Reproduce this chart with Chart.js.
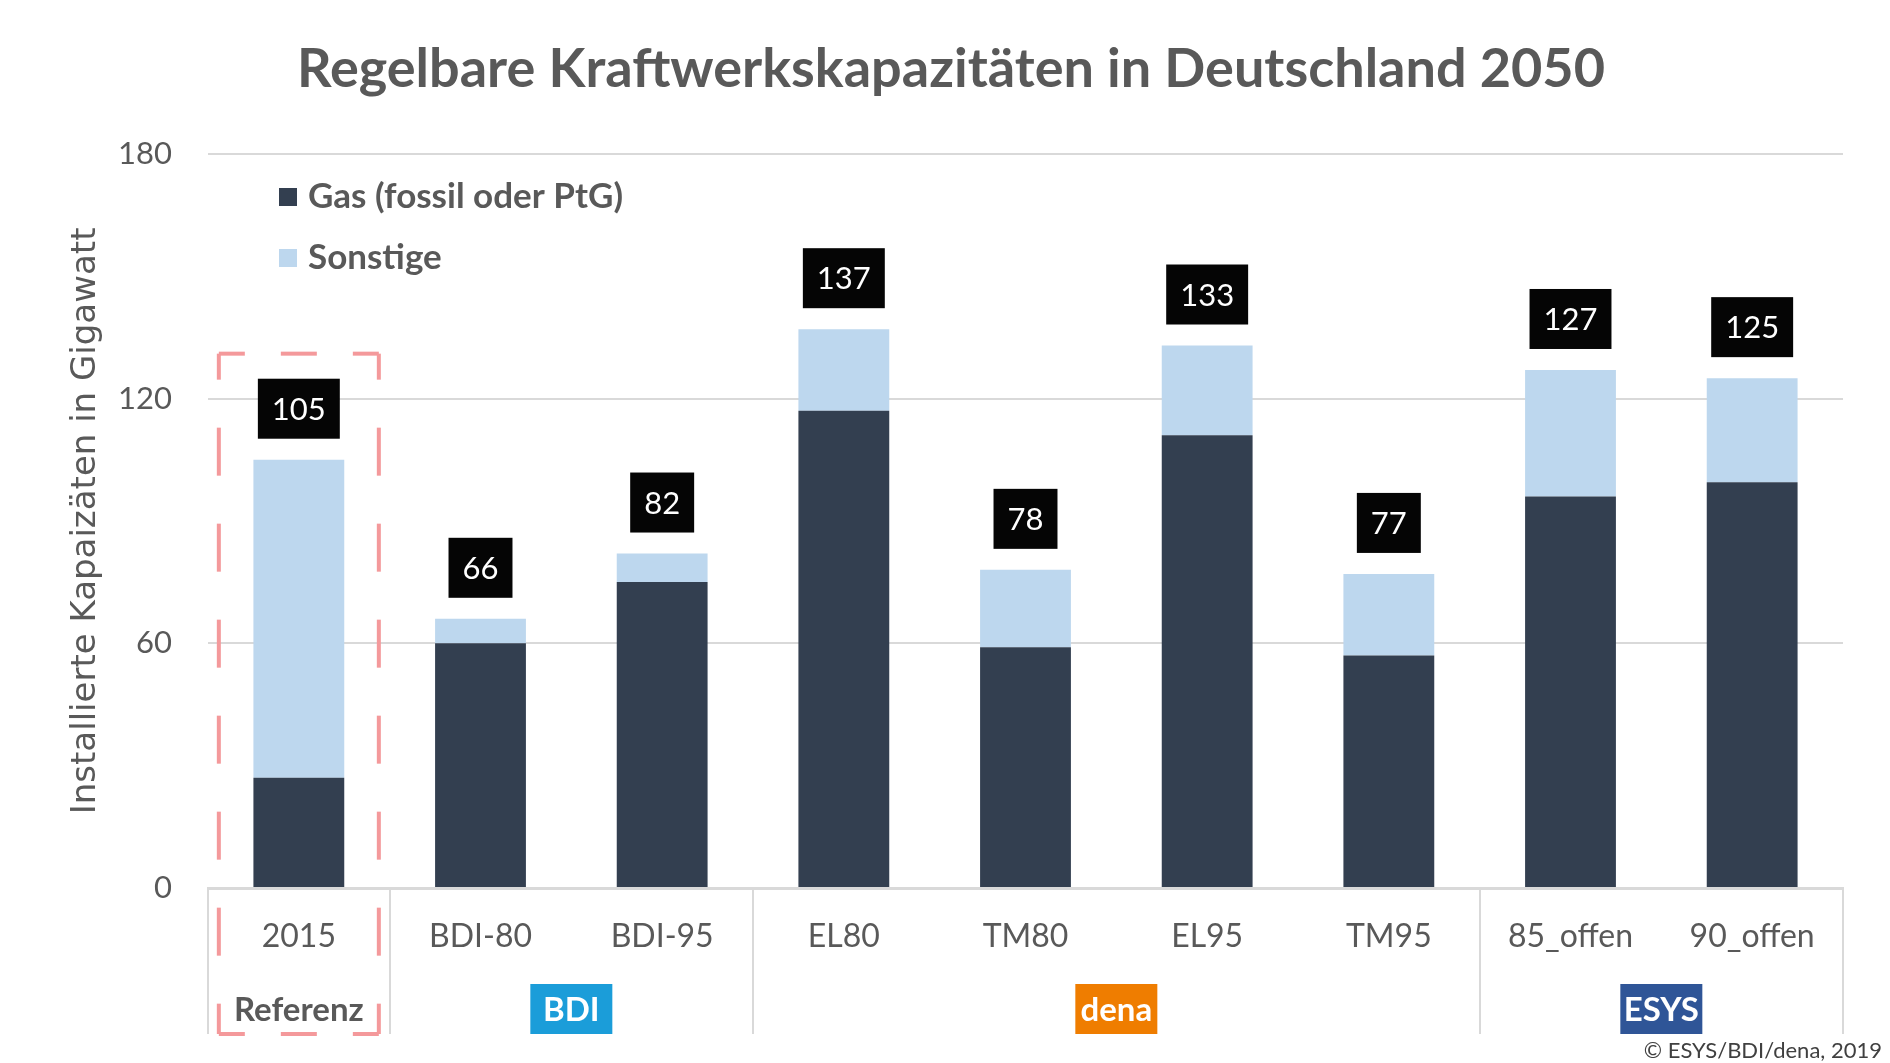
<!DOCTYPE html>
<html lang="de">
<head>
<meta charset="utf-8">
<title>Regelbare Kraftwerkskapazitäten in Deutschland 2050</title>
<script src="https://cdn.jsdelivr.net/npm/chart.js@4.4.1/dist/chart.umd.min.js"></script>
<style>
  html, body { margin: 0; padding: 0; background: #fff; }
  #wrap { width: 1890px; height: 1063px; position: relative; }
</style>
</head>
<body>
<div id="wrap"><canvas id="kapa-plot"></canvas></div>
<script>
'use strict';

// data (GW)
const categories = ['2015', 'BDI-80', 'BDI-95', 'EL80', 'TM80', 'EL95', 'TM95', '85_offen', '90_offen'];
const gasValues = [27, 60, 75, 117, 59, 111, 57, 96, 99.5];
const otherValues = [78, 6, 7, 20, 19, 22, 20, 31, 25.5];
const seriesLabels = ['Gas (fossil oder PtG)', 'Sonstige'];
const yTicks = [0, 60, 120, 180];
const groupLabels = ['Referenz', 'BDI', 'dena', 'ESYS'];
const groupFirst = [0, 1, 3, 7];
const groupLast = [0, 2, 6, 8];
const titleText = 'Regelbare Kraftwerkskapazitäten in Deutschland 2050';
const yTitle = 'Installierte Kapaizäten in Gigawatt';
const sourceText = '© ESYS/BDI/dena, 2019';
const refFrameTop = 131; // upper edge of the dashed "Referenz" frame, GW

const grey = '#595959';
const lineGrey = '#d9d9d9';
const gasColor = '#333f50';
const otherColor = '#bdd7ee';
const groupFill = [null, '#1b9dd9', '#ef7d00', '#2f5597'];

let chart = null;

const extras = {
  id: 'extras',
  afterDatasetsDraw(c){
    const ctx = c.ctx;
    const topMeta = c.getDatasetMeta(c.data.datasets.length - 1);
    ctx.save();
    ctx.font = '31px Lato';
    ctx.textAlign = 'center';
    ctx.textBaseline = 'middle';
    categories.forEach((cat, i)=>{
      const total = gasValues[i] + otherValues[i];
      const bar = topMeta.data[i];
      const txt = String(Math.round(total));
      const w = ctx.measureText(txt).width + 28;
      const h = 60;
      const by = bar.y - 21 - h;
      ctx.fillStyle = '#050505';
      ctx.fillRect(bar.x - w / 2, by, w, h);
      ctx.fillStyle = '#fff';
      ctx.fillText(txt, bar.x, by + h / 2 + 1);
    });
    ctx.restore();
  },
  afterDraw(c){
    const ctx = c.ctx;
    const xs = c.scales.x;
    const ys = c.scales.y;
    const step = (xs.right - xs.left) / categories.length;
    const lowY = c.height - 29;
    ctx.save();

    // legend, top left inside the plot
    c.data.datasets.forEach((ds, k)=>{
      const cy = 197 + k * 61;
      ctx.fillStyle = ds.backgroundColor;
      ctx.fillRect(279, cy - 9, 18, 18);
      ctx.fillStyle = grey;
      ctx.font = 'bold 35px Lato';
      ctx.textAlign = 'left';
      ctx.textBaseline = 'middle';
      ctx.fillText(ds.label, 308, cy);
    });

    // group separators below the axis
    ctx.strokeStyle = lineGrey;
    ctx.lineWidth = 2;
    const bounds = [groupFirst[0]].concat(groupLast.map((v)=>v + 1));
    bounds.forEach((b)=>{
      const px = Math.round(xs.left + b * step);
      ctx.beginPath();
      ctx.moveTo(px, ys.bottom);
      ctx.lineTo(px, lowY);
      ctx.stroke();
    });

    // group labels
    ctx.textAlign = 'center';
    ctx.textBaseline = 'middle';
    ctx.font = 'bold 33px Lato';
    groupLabels.forEach((g, k)=>{
      const cx = (xs.getPixelForValue(groupFirst[k]) + xs.getPixelForValue(groupLast[k])) / 2;
      const cy = lowY - 25;
      if(groupFill[k]){
        ctx.fillStyle = groupFill[k];
        ctx.fillRect(cx - 41, lowY - 50, 82, 50);
        ctx.fillStyle = '#fff';
      } else {
        ctx.fillStyle = grey;
      }
      ctx.fillText(g, cx, cy + 1);
    });

    // dashed frame around the reference year
    const fx = xs.getPixelForValue(0);
    const l = fx - 80, r = fx + 80;
    const t = ys.getPixelForValue(refFrameTop), b = lowY;
    ctx.strokeStyle = '#f4999b';
    ctx.lineWidth = 4;
    const side = (x1, y1, x2, y2, dash, off)=>{
      ctx.setLineDash(dash);
      ctx.lineDashOffset = off;
      ctx.beginPath();
      ctx.moveTo(x1, y1);
      ctx.lineTo(x2, y2);
      ctx.stroke();
    };
    side(l, t, r, t, [36, 36], 10);
    side(l, b, r, b, [36, 36], 10);
    side(l, t, l, b, [48, 48], 22);
    side(r, t, r, b, [48, 48], 22);
    ctx.setLineDash([]);

    // source note
    ctx.fillStyle = '#404040';
    ctx.font = '22px Lato';
    ctx.textAlign = 'right';
    ctx.textBaseline = 'middle';
    ctx.fillText(sourceText, c.width - 8, 1051);
    ctx.restore();
  }
};

function makePlot(){
  chart = new Chart(document.querySelector('#kapa-plot'), {
    type: 'bar',
    data: {
      labels: categories,
      datasets: [
        {label: seriesLabels[0], data: gasValues, backgroundColor: gasColor},
        {label: seriesLabels[1], data: otherValues, backgroundColor: otherColor}
      ]
    },
    options: {
      responsive: true,
      maintainAspectRatio: false,
      devicePixelRatio: 1,
      animation: false,
      datasets: {bar: {categoryPercentage: 0.5, barPercentage: 1}},
      layout: {padding: {left: 59, right: 47, top: 0, bottom: 0}},
      plugins: {
        legend: {display: false},
        tooltip: {enabled: false},
        title: {
          display: true,
          text: titleText,
          color: grey,
          font: {family: 'Lato', size: 54, weight: 'bold'},
          padding: {top: 37, bottom: 52}
        }
      },
      scales: {
        x: {
          stacked: true,
          grid: {display: false},
          border: {display: true, color: lineGrey, width: 3},
          ticks: {color: grey, font: {family: 'Lato', size: 32}, padding: 21, maxRotation: 0},
          afterFit: (s)=>{ s.height = 175; }
        },
        y: {
          stacked: true,
          min: yTicks[0],
          max: yTicks[yTicks.length - 1],
          afterBuildTicks: (s)=>{ s.ticks = yTicks.map((v)=>({value: v})); },
          grid: {color: lineGrey, lineWidth: 2, drawTicks: false},
          border: {display: false},
          ticks: {color: grey, font: {family: 'Lato', size: 31}, padding: 36},
          title: {
            display: true,
            text: yTitle,
            color: grey,
            font: {family: 'DejaVu Sans', size: 34},
            padding: {top: 7, bottom: 0}
          },
          afterFit: (s)=>{ s.width = 149; }
        }
      }
    },
    plugins: [extras]
  });
}

window.addEventListener('load', ()=>{
  makePlot();
});
</script>
</body>
</html>
